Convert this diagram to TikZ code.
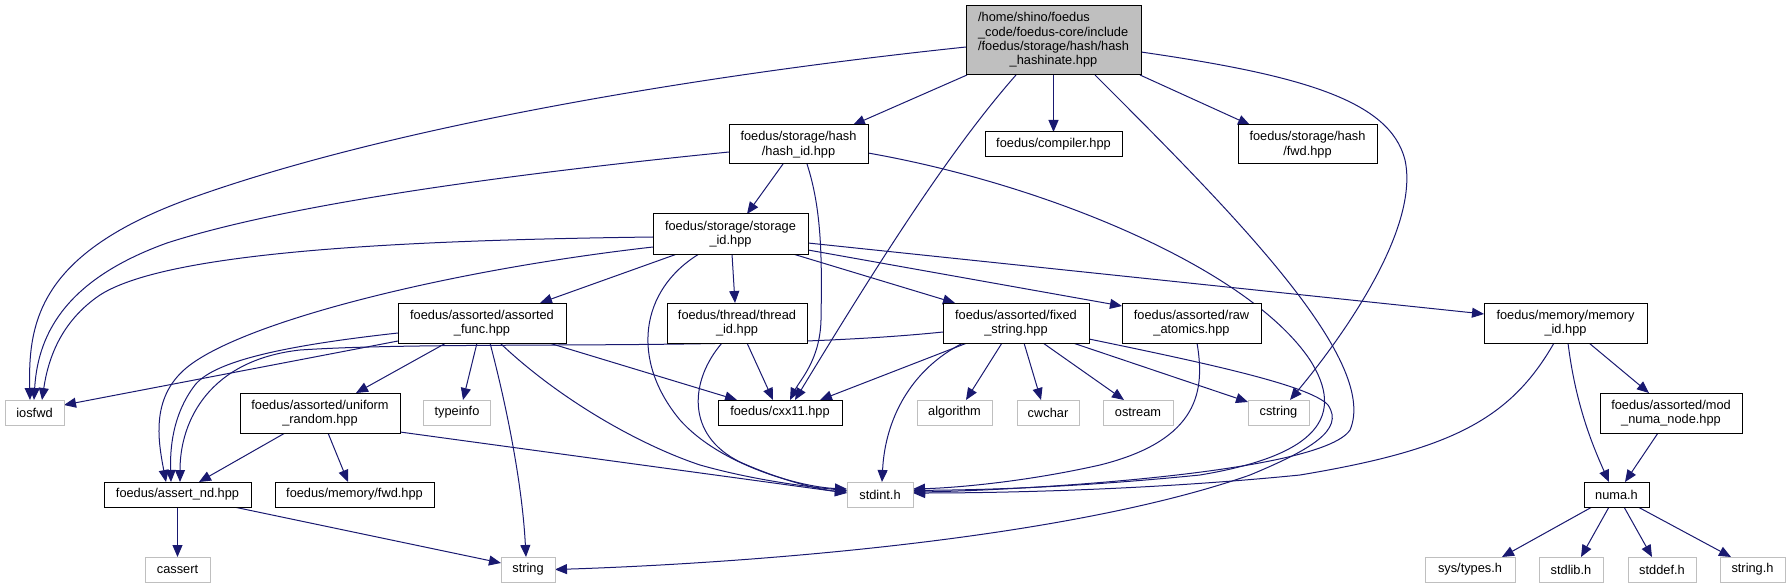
\documentclass[tikz,border=0pt]{standalone}
\usepackage{fontspec}
\setmainfont{Liberation Sans}
\usetikzlibrary{arrows.meta}
\definecolor{edgec}{HTML}{191970}
\definecolor{greyb}{HTML}{BFBFBF}
\pgfdeclarelayer{bg}
\pgfsetlayers{bg,main}
\begin{document}
\begin{tikzpicture}[x=1pt,y=-1pt,
 every node/.style={font=\fontsize{12.8}{14.4}\selectfont, inner sep=0pt, outer sep=0pt},
 fbox/.style={draw=black, fill=white, line width=1pt, align=center},
 sbox/.style={draw=greyb, fill=white, line width=1pt, align=center, minimum height=25pt},
 rootbox/.style={draw=black, fill=greyb, line width=1pt},
 dep/.style={draw=edgec, line width=1pt, -{Triangle[length=12pt,width=10pt]}}
]
\useasboundingbox (0,0) rectangle (1791,588);

% nodes
\node[rootbox, minimum width=175pt, minimum height=69pt] (root) at (1053.5,40.5)
 {\begin{tabular}{@{}l@{}}/home/shino/foedus\\\_code/foedus-core/include\\/foedus/storage/hash/hash\\\multicolumn{1}{@{}c@{}}{\_hashinate.hpp}\end{tabular}};
\node[fbox, minimum width=139pt, minimum height=39pt] (hashid) at (798.5,144.5) {foedus/storage/hash\\/hash\_id.hpp};
\node[fbox, minimum width=137pt, minimum height=25pt] (compiler) at (1053.5,144.5) {foedus/compiler.hpp};
\node[fbox, minimum width=139pt, minimum height=39pt] (fwdhash) at (1307.5,144.5) {foedus/storage/hash\\/fwd.hpp};
\node[fbox, minimum width=155pt, minimum height=40pt] (storid) at (730.5,234) {foedus/storage/storage\\\_id.hpp};
\node[fbox, minimum width=168pt, minimum height=40pt] (afunc) at (482,323) {foedus/assorted/assorted\\\_func.hpp};
\node[fbox, minimum width=140pt, minimum height=40pt] (thread) at (737,323) {foedus/thread/thread\\\_id.hpp};
\node[fbox, minimum width=146pt, minimum height=40pt] (fixed) at (1016,323) {foedus/assorted/fixed\\\_string.hpp};
\node[fbox, minimum width=139pt, minimum height=40pt] (raw) at (1191.5,323) {foedus/assorted/raw\\\_atomics.hpp};
\node[fbox, minimum width=163pt, minimum height=40pt] (memid) at (1565.5,323) {foedus/memory/memory\\\_id.hpp};
\node[sbox, minimum width=59pt] (iosfwd) at (34.5,412.5) {iosfwd};
\node[fbox, minimum width=160pt, minimum height=40pt] (unif) at (320,413) {foedus/assorted/uniform\\\_random.hpp};
\node[sbox, minimum width=67pt] (typeinfo) at (457,412.5) {typeinfo};
\node[fbox, minimum width=124pt, minimum height=25pt] (cxx11) at (780,412.5) {foedus/cxx11.hpp};
\node[sbox, minimum width=75pt] (algorithm) at (954.5,412.5) {algorithm};
\node[sbox, minimum width=62pt] (cwchar) at (1048,412.5) {cwchar};
\node[sbox, minimum width=70pt] (ostream) at (1138,412.5) {ostream};
\node[sbox, minimum width=61pt] (cstring) at (1278.5,412.5) {cstring};
\node[fbox, minimum width=142pt, minimum height=40pt] (modnuma) at (1671,413) {foedus/assorted/mod\\\_numa\_node.hpp};
\node[fbox, minimum width=147pt, minimum height=25pt] (assertnd) at (177.5,494.5) {foedus/assert\_nd.hpp};
\node[fbox, minimum width=159pt, minimum height=25pt] (memfwd) at (354.5,494.5) {foedus/memory/fwd.hpp};
\node[sbox, minimum width=66pt] (stdint) at (880,494.5) {stdint.h};
\node[fbox, minimum width=65pt, minimum height=25pt] (numa) at (1616.5,494.5) {numa.h};
\node[sbox, minimum width=65pt] (cassert) at (177.5,569.5) {cassert};
\node[sbox, minimum width=54pt] (string) at (528,569.5) {string};
\node[sbox, minimum width=90pt] (systypes) at (1470,569.5) {sys/types.h};
\node[sbox, minimum width=64pt] (stdlib) at (1571,569.5) {stdlib.h};
\node[sbox, minimum width=68pt] (stddef) at (1662,569.5) {stddef.h};
\node[sbox, minimum width=65pt] (stringh) at (1752.5,569.5) {string.h};

\begin{pgfonlayer}{bg}
% root
\draw[dep] ([yshift=-6.5pt]root.west) .. controls (700,75) and (400,125) .. (200,195) .. controls (40,250) and (28,320) .. ([xshift=-4.5pt]iosfwd.north);
\draw[dep] ([xshift=-86.5pt]root.south) -- ([xshift=54.5pt]hashid.north);
\draw[dep] ([xshift=-37.5pt]root.south) .. controls (950,150) and (880,260) .. ([xshift=15pt]cxx11.north);
\draw[dep] (root.south) -- (compiler.north);
\draw[dep] ([xshift=41.5pt]root.south) .. controls (1230,210) and (1380,360) .. (1350,430) .. controls (1320,475) and (1000,491) .. ([yshift=2.5pt]stdint.east);
\draw[dep] ([xshift=86.5pt]root.south) -- ([xshift=-57.5pt]fwdhash.north);
\draw[dep] ([yshift=-11.5pt]root.east) .. controls (1300,75) and (1390,100) .. (1405,160) .. controls (1420,230) and (1340,340) .. ([xshift=11.5pt]cstring.north);
% hash_id
\draw[dep] ([yshift=-7.5pt]hashid.west) .. controls (550,170) and (300,200) .. (167,243) .. controls (70,278) and (38,330) .. ([xshift=-0.5pt]iosfwd.north);
\draw[dep] ([xshift=-15.5pt]hashid.south) -- ([xshift=16.5pt]storid.north);
\draw[dep] ([xshift=8.5pt]hashid.south) .. controls (822,210) and (822,260) .. (821,320) .. controls (820,360) and (800,380) .. ([xshift=10pt]cxx11.north);
\draw[dep] ([yshift=-8.5pt]hashid.east) .. controls (1050,185) and (1250,270) .. (1310,360) .. controls (1345,415) and (1320,455) .. (1200,475) .. controls (1050,490) and (950,490) .. ([yshift=4pt]stdint.east);
% storage_id
\draw[dep] ([yshift=-3pt]storid.west) .. controls (420,240) and (170,250) .. (100,295) .. controls (60,322) and (48,360) .. ([xshift=7.5pt]iosfwd.north);
\draw[dep] ([yshift=-13pt]storid.west) .. controls (450,270) and (250,320) .. (190,365) .. controls (150,395) and (158,440) .. ([xshift=-11.5pt]assertnd.north);
\draw[dep] ([xshift=-53.5pt]storid.south) -- ([xshift=58pt]afunc.north);
\draw[dep] ([xshift=1.5pt]storid.south) -- ([xshift=-2pt]thread.north);
\draw[dep] ([xshift=-31.5pt]storid.south) .. controls (640,290) and (630,360) .. (680,420) .. controls (720,465) and (800,487) .. ([yshift=5.5pt]stdint.west);
\draw[dep] ([xshift=62.5pt]storid.south) -- ([xshift=-61pt]fixed.north);
\draw[dep] ([yshift=-16pt]storid.east) -- ([yshift=17pt]raw.west);
\draw[dep] ([yshift=-9pt]storid.east) -- ([yshift=9pt]memid.west);
% assorted_func
\draw[dep] ([yshift=-18pt]afunc.west) -- ([yshift=7.5pt]iosfwd.east);
\draw[dep] ([yshift=-10pt]afunc.west) .. controls (290,345) and (215,360) .. (195,385) .. controls (172,415) and (170,450) .. ([xshift=-6.5pt]assertnd.north);
\draw[dep] ([xshift=-36pt]afunc.south) -- ([xshift=36pt]unif.north);
\draw[dep] ([xshift=-5pt]afunc.south) -- ([xshift=6pt]typeinfo.north);
\draw[dep] ([xshift=8pt]afunc.south) .. controls (505,400) and (522,480) .. ([xshift=-2pt]string.north);
\draw[dep] ([xshift=18pt]afunc.south) .. controls (560,400) and (640,445) .. (700,465) .. controls (760,482) and (820,488) .. ([yshift=4pt]stdint.west);
\draw[dep] ([xshift=67pt]afunc.south) -- ([xshift=-43pt]cxx11.north);
% thread_id
\draw[dep] ([xshift=10pt]thread.south) -- ([xshift=-7pt]cxx11.north);
\draw[dep] ([xshift=-15pt]thread.south) .. controls (690,380) and (685,435) .. (740,462) .. controls (780,480) and (820,490) .. ([yshift=2.5pt]stdint.west);
% uniform_random
\draw[dep] ([xshift=-35pt]unif.south) -- ([xshift=21.5pt]assertnd.north);
\draw[dep] ([xshift=8pt]unif.south) -- ([xshift=-6.5pt]memfwd.north);
\draw[dep] ([yshift=-19pt]unif.east) -- ([yshift=1.5pt]stdint.west);
% assert_nd
\draw[dep] (assertnd.south) -- (cassert.north);
\draw[dep] ([xshift=56.5pt]assertnd.south) -- ([yshift=6.5pt]string.west);
% fixed_string
\draw[dep] ([yshift=-9pt]fixed.west) .. controls (750,352) and (450,340) .. (300,350) .. controls (210,360) and (180,420) .. ([xshift=2.5pt]assertnd.north);
\draw[dep] ([xshift=-49pt]fixed.south) -- ([xshift=40pt]cxx11.north);
\draw[dep] ([xshift=-53pt]fixed.south) .. controls (910,370) and (885,420) .. ([xshift=2pt]stdint.north);
\draw[dep] ([xshift=-14pt]fixed.south) -- ([xshift=11.5pt]algorithm.north);
\draw[dep] ([xshift=8pt]fixed.south) -- ([xshift=-7pt]cwchar.north);
\draw[dep] ([xshift=27pt]fixed.south) -- ([xshift=-14pt]ostream.north);
\draw[dep] ([xshift=57pt]fixed.south) -- ([yshift=10.5pt]cstring.west);
\draw[dep] ([yshift=-16pt]fixed.east) .. controls (1200,362) and (1310,385) .. (1328,405) .. controls (1345,430) and (1310,450) .. (1250,475) .. controls (1050,545) and (700,565) .. (string.east);
% raw_atomics
\draw[dep] ([xshift=5.5pt]raw.south) .. controls (1205,390) and (1200,440) .. (1100,465) .. controls (1020,483) and (950,488) .. ([yshift=5.5pt]stdint.east);
% memory_id
\draw[dep] ([xshift=-11.5pt]memid.south) .. controls (1510,420) and (1450,450) .. (1300,475) .. controls (1150,490) and (1000,493) .. ([yshift=1.5pt]stdint.east);
\draw[dep] ([xshift=2.5pt]memid.south) .. controls (1575,400) and (1590,440) .. ([xshift=-7.5pt]numa.north);
\draw[dep] ([xshift=23.5pt]memid.south) -- ([xshift=-22pt]modnuma.north);
\draw[dep] ([xshift=-13pt]modnuma.south) -- ([xshift=8.5pt]numa.north);
% numa
\draw[dep] ([xshift=-24.5pt]numa.south) -- ([xshift=32pt]systypes.north);
\draw[dep] ([xshift=-7.5pt]numa.south) -- ([xshift=10pt]stdlib.north);
\draw[dep] ([xshift=7.5pt]numa.south) -- ([xshift=-10pt]stddef.north);
\draw[dep] ([xshift=21.5pt]numa.south) -- ([xshift=-21.5pt]stringh.north);
\end{pgfonlayer}
\end{tikzpicture}
\end{document}
